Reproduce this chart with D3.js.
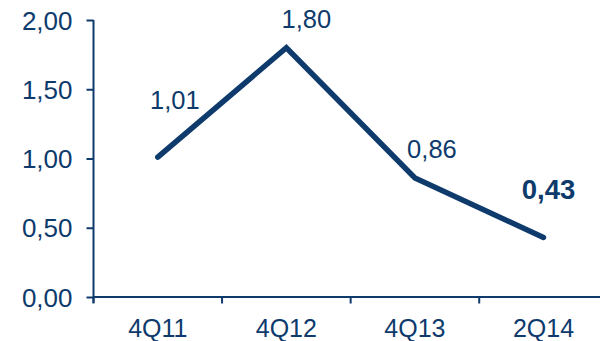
<!DOCTYPE html>
<html><head><meta charset="utf-8">
<script src="https://cdn.jsdelivr.net/npm/d3@7"></script>
<style>html,body{margin:0;padding:0;background:#fff;}svg{display:block;}</style>
</head><body>
<script>
const categories = ["4Q11", "4Q12", "4Q13", "2Q14"];
const values = [1.01, 1.80, 0.86, 0.43];
const valueLabels = ["1,01", "1,80", "0,86", "0,43"];
const yTicks = [0, 0.5, 1, 1.5, 2];
const yTickLabels = ["0,00", "0,50", "1,00", "1,50", "2,00"];
const boldLabel = [false, false, false, true];
const labelDx = [17, 20, 17, 5];
const labelDy = [-48, -20, -20, -38];

const W = 600, H = 341;
const color = "#0e3a6c";
const font = "'Liberation Sans', Arial, sans-serif";
const svg = d3.select("body").append("svg").attr("width", W).attr("height", H);

const x = d3.scaleBand().domain(categories).range([93.5, 607.8]).padding(0);
const y = d3.scaleLinear().domain([0, 2]).range([297, 20]);
const cx = c => x(c) + x.bandwidth() / 2;

// y axis
const yAxis = svg.append("g").attr("transform", "translate(93.5,0)")
  .call(d3.axisLeft(y).tickValues(yTicks).tickSize(7).tickPadding(14)
    .tickFormat((d, i) => yTickLabels[i]));
yAxis.select(".domain").attr("stroke", color).attr("stroke-width", 2).attr("d", `M0,${y(2)}V${y(0)+6}`);
yAxis.selectAll(".tick line").attr("stroke", color).attr("stroke-width", 2);
yAxis.selectAll(".tick text").attr("fill", color).attr("font-family", font)
  .attr("font-size", 26).attr("dy", "0.35em");

// x axis line
svg.append("line").attr("x1", 93.5).attr("x2", W).attr("y1", y(0)).attr("y2", y(0))
  .attr("stroke", color).attr("stroke-width", 2);
// boundary ticks
const bounds = categories.map(c => x(c)).concat([x(categories[categories.length-1]) + x.bandwidth()]);
svg.selectAll("line.xt").data(bounds).join("line").attr("class", "xt")
  .attr("x1", d => d).attr("x2", d => d).attr("y1", y(0)).attr("y2", y(0) + 6.5)
  .attr("stroke", color).attr("stroke-width", 2);
svg.selectAll("text.xl").data(categories).join("text").attr("class", "xl")
  .attr("x", d => cx(d)).attr("y", 336.5).attr("text-anchor", "middle")
  .attr("fill", color).attr("font-family", font).attr("font-size", 25).text(d => d);

// line
const pts = categories.map((c, i) => [cx(c), y(values[i])]);
svg.append("path").attr("d", d3.line()(pts)).attr("fill", "none")
  .attr("stroke", color).attr("stroke-width", 5.5).attr("stroke-linecap", "round")
  .attr("stroke-linejoin", "miter");

// data labels
svg.selectAll("text.vl").data(values).join("text").attr("class", "vl")
  .attr("x", (d, i) => pts[i][0] + labelDx[i]).attr("y", (d, i) => pts[i][1] + labelDy[i])
  .attr("text-anchor", "middle").attr("fill", color).attr("font-family", font)
  .attr("font-size", (d, i) => boldLabel[i] ? 27.5 : 25.5)
  .attr("font-weight", (d, i) => boldLabel[i] ? "bold" : "normal")
  .text((d, i) => valueLabels[i]);
</script>
</body></html>
